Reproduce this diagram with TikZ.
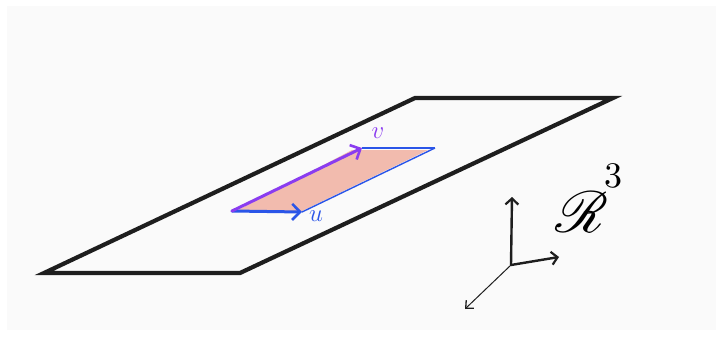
\documentclass[tikz,border=0pt]{standalone}
\usepackage{mathrsfs}
\usepackage{graphicx}
\usetikzlibrary{arrows.meta}
\definecolor{bgray}{HTML}{FAFAFA}
\definecolor{ink}{HTML}{1E1E1E}
\definecolor{vpurple}{HTML}{8A3CF0}
\definecolor{ublue}{HTML}{2A55E8}
\definecolor{salmon}{HTML}{EE9A86}
\tikzset{
  plane/.style={draw=ink, line width=4.2pt, line join=miter},
  vec/.style={line width=3pt, line cap=round, -{Straight Barb[length=8pt,width=16pt,line width=2.6pt]}},
  edge/.style={draw=ublue, line width=1.4pt},
  axis/.style={draw=ink, line width=2.4pt, line cap=round, -{Straight Barb[length=6pt,width=13pt,line width=2.2pt]}},
  thinaxis/.style={draw=ink, line width=1pt, line cap=round, -{Straight Barb[length=6pt,width=11pt,line width=1.3pt]}},
  lbl/.style={inner sep=0pt}
}
\begin{document}
\begin{tikzpicture}[x=1pt,y=-1pt]
\useasboundingbox (0,0) rectangle (722,337);
\fill[white] (0,0) rectangle (722,337);
\fill[bgray] (7,6) rectangle (716,330);
% plane
\coordinate (P1) at (44,273);
\coordinate (P2) at (240,273);
\coordinate (P3) at (613,98);
\coordinate (P4) at (415,98);
\draw[plane] (P1) -- (P2) -- (P3) -- (P4) -- cycle;
% small parallelogram
\coordinate (O) at (232,211);
\coordinate (U) at (302,212);
\coordinate (W) at (435,148);
\coordinate (V) at (362,148);
\fill[salmon, opacity=0.65] (238,210) -- (300,212) -- (428,150) -- (352,150) -- cycle;
\draw[edge] (U) -- (W);
\draw[edge] (V) -- (W);
\draw[vec, draw=ublue] (O) -- (U);
\draw[vec, draw=vpurple] (O) -- (V);
\node[lbl, text=ublue, font=\fontsize{30}{30}\selectfont] (ul) at (316,216) {$u$};
\node[lbl, text=vpurple, font=\fontsize{26}{26}\selectfont] (vl) at (378,133) {$v$};
% axes
\coordinate (A0) at (511,265);
\coordinate (Az) at (512,197);
\coordinate (Ax) at (559,257);
\coordinate (Ay) at (465,309);
\draw[axis] (A0) -- (Az);
\draw[axis] (A0) -- (Ax);
\draw[thinaxis] (A0) -- (Ay);
\node[lbl] (R) at (582,212) {\scalebox{5.8}{$\mathscr{R}$}};
\node[lbl] (three) at (613,176) {\scalebox{3.6}{$3$}};
\end{tikzpicture}
\end{document}
